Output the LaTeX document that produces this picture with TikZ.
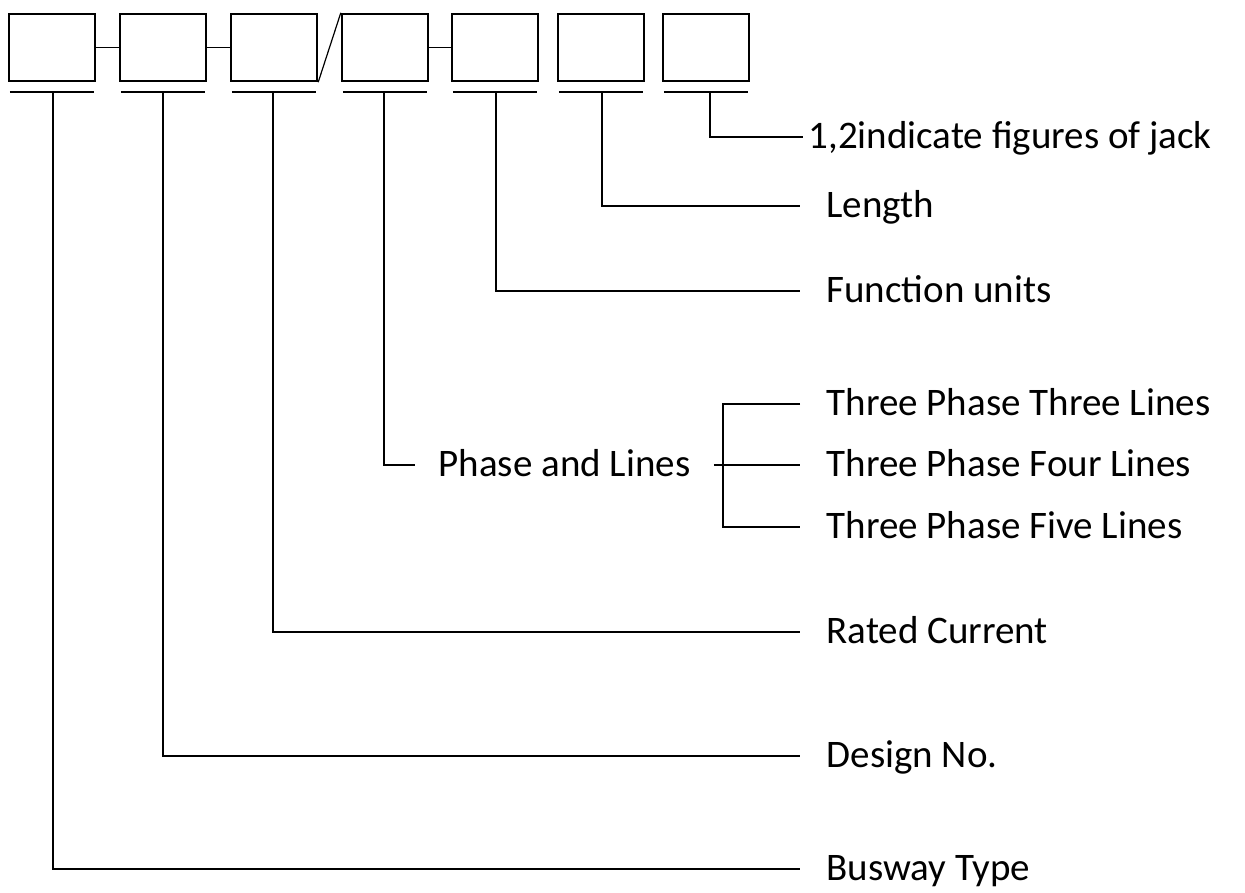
\documentclass[tikz,border=0pt]{standalone}
\usepackage{fontspec}
\setmainfont{Carlito}
\begin{document}
\begin{tikzpicture}[x=1pt,y=-1pt,line width=1.2pt,
    box/.style={draw,line width=2.4pt,minimum width=86pt,minimum height=67pt,inner sep=0pt},
    lbl/.style={anchor=west,inner ysep=0pt,inner xsep=26pt,text height=22pt,text depth=0pt,
      font=\fontsize{39}{47}\selectfont}]
  \useasboundingbox (0,0) rectangle (1245,892);
  % code boxes
  \node[box] at (52,47.5) (b1) {};
  \node[box] at (163,47.5) (b2) {};
  \node[box] at (274,47.5) (b3) {};
  \node[box] at (385,47.5) (b4) {};
  \node[box] at (495,47.5) (b5) {};
  \node[box] at (601,47.5) (b6) {};
  \node[box] at (706,47.5) (b7) {};
  \draw (b1) -- (b2);
  \draw (b2) -- (b3);
  \draw (b3.south east) -- (b4.north west);
  \draw (b4) -- (b5);
  % underlines
  \foreach \b/\x in {b1/53,b2/163,b3/273,b4/384,b5/496,b6/602,b7/710} {
    \coordinate (u\b) at (\x,92);
    \draw[line width=1.5pt] ([xshift=2pt]\b.west |- u\b) -- ([xshift=-2pt]\b.east |- u\b);
  }
  % labels
  \node[lbl,inner xsep=5pt] at (803,137) (jack) {1,2indicate figures of jack};
  \node[lbl] at (800,206) (len) {Length};
  \node[lbl] at (800,291) (func) {Function units};
  \node[lbl,inner xsep=23pt] at (415,465) (phase) {Phase and Lines};
  \node[lbl] at (800,404) (three) {Three Phase Three Lines};
  \node[lbl] at (800,465) (four) {Three Phase Four Lines};
  \node[lbl] at (800,527) (five) {Three Phase Five Lines};
  \node[lbl] at (800,632) (rated) {Rated Current};
  \node[lbl] at (800,756) (design) {Design No.};
  \node[lbl] at (800,869) (busway) {Busway Type};
  \coordinate (brk) at (723,465);
  % leaders
  \draw (ub7) |- (jack.west);
  \draw (ub6) |- (len.west);
  \draw (ub5) |- (func.west);
  \draw (ub4) |- (phase.west);
  \draw (ub3) |- (rated.west);
  \draw (ub2) |- (design.west);
  \draw (ub1) |- (busway.west);
  \draw (phase.east) -- (four.west);
  \draw (three.west) -| (brk) |- (five.west);
\end{tikzpicture}
\end{document}
